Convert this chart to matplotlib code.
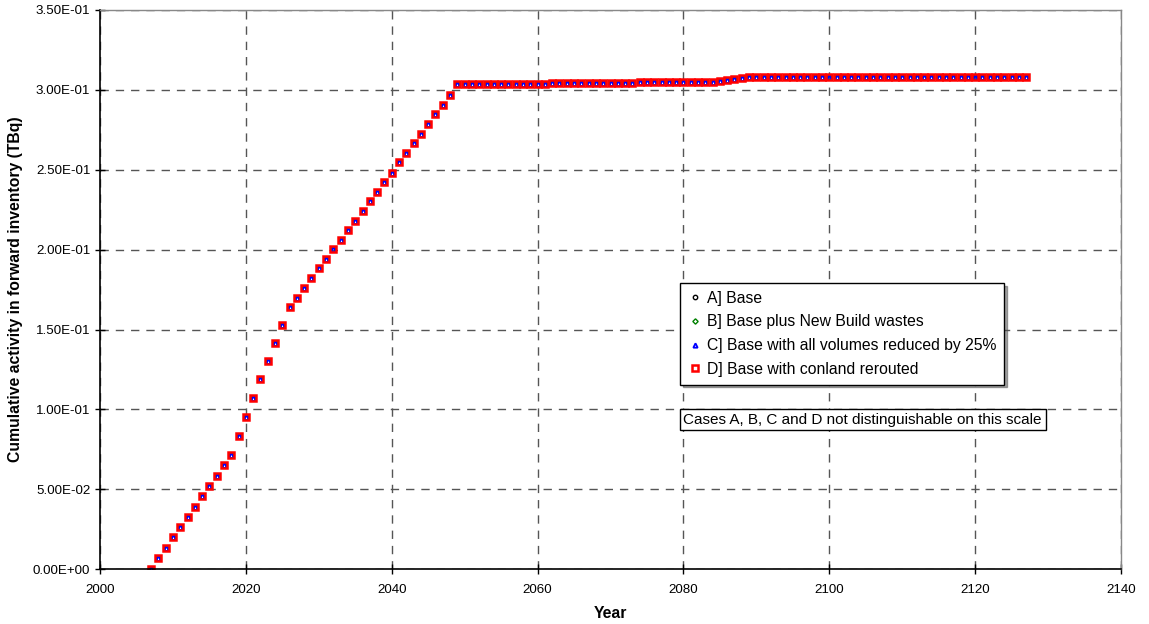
import numpy as np
import matplotlib
matplotlib.use("Agg")
import matplotlib.pyplot as plt
from matplotlib.ticker import FuncFormatter, MultipleLocator

plt.rcParams['font.family'] = ['Liberation Sans', 'DejaVu Sans']

# years 2007 - 2127
years = list(range(2007, 2128))

# cumulative activity (TBq)
rise = [0.0, 0.0069, 0.0133, 0.0200, 0.0262, 0.0330, 0.0392, 0.0458, 0.0520, 0.0582,
        0.0650, 0.0717, 0.0833, 0.0952, 0.1071, 0.1188, 0.1304, 0.1416, 0.1529, 0.1639,
        0.1700, 0.1763, 0.1823, 0.1885, 0.1943, 0.2002, 0.2062, 0.2123, 0.2181, 0.2244,
        0.2304, 0.2363, 0.2425, 0.2483, 0.2546, 0.2606, 0.2666, 0.2727, 0.2787, 0.2848,
        0.2906, 0.2968]
plateau = [0.3036, 0.3036, 0.3036, 0.3037, 0.3037, 0.3037, 0.3038, 0.3038, 0.3038, 0.3039,
           0.3039, 0.3040, 0.3040, 0.3041, 0.3041, 0.3042, 0.3042, 0.3043, 0.3043, 0.3044,
           0.3044, 0.3045, 0.3045, 0.3046, 0.3046, 0.3047, 0.3047, 0.3048, 0.3048, 0.3049,
           0.3049, 0.3050, 0.3050, 0.3050, 0.3050, 0.3050, 0.3056, 0.3063, 0.3067, 0.3073]
top = [0.3078] * (len(years) - len(rise) - len(plateau))
base = rise + plateau + top

case_a = base
case_b = base
case_c = base
case_d = base

labels = ["A] Base", "B] Base plus New Build wastes",
          "C] Base with all volumes reduced by 25%", "D] Base with conland rerouted"]

fig = plt.figure(figsize=(11.49, 6.24), dpi=100)
ax = fig.add_axes([100/1149, 1 - 569.3/624, 1021/1149, 559.3/624])

ax.plot(years, case_a, ls='none', marker='o', mfc='none', mec='black', ms=3.5, mew=1.0, label=labels[0])
ax.plot(years, case_b, ls='none', marker='D', mfc='none', mec='green', ms=3.0, mew=1.0, label=labels[1])
ax.plot(years, case_c, ls='none', marker='^', mfc='none', mec='blue', ms=3.5, mew=1.3, label=labels[2])
ax.plot(years, case_d, ls='none', marker='s', mfc='none', mec='red', ms=5.0, mew=1.8, label=labels[3])

ax.set_xlim(2000, 2140)
ax.set_ylim(0, 0.35)
ax.xaxis.set_major_locator(MultipleLocator(20))
ax.yaxis.set_major_locator(MultipleLocator(0.05))
ax.yaxis.set_major_formatter(FuncFormatter(lambda v, p: "%.2E" % v))
ax.tick_params(direction='inout', length=7, width=1, labelsize=9.6, colors='black')
ax.tick_params(axis='x', pad=7)
ax.grid(True, ls=(0, (6, 5)), color='#555555', lw=1.0)

for s in ['top', 'right']:
    ax.spines[s].set_color('#888888')
    ax.spines[s].set_linewidth(1.0)
for s in ['left', 'bottom']:
    ax.spines[s].set_linewidth(1.2)

ax.set_xlabel('Year', fontsize=11.3, fontweight='bold', labelpad=7)
ax.set_ylabel('Cumulative activity in forward inventory (TBq)', fontsize=11.3, fontweight='bold', labelpad=7)

leg = ax.legend(loc='upper left', bbox_to_anchor=(0.568, 0.512), borderaxespad=0,
                fontsize=11.3, frameon=True, fancybox=False, shadow=True,
                labelspacing=0.55, handletextpad=0.3, handlelength=0.9,
                borderpad=0.5, markerscale=0.9)
leg.get_frame().set_edgecolor('black')
leg.get_frame().set_linewidth(1.0)

ax.text(2080.0, 0.0937, 'Cases A, B, C and D not distinguishable on this scale',
        fontsize=11.0, va='center', ha='left',
        bbox=dict(boxstyle='square,pad=0.25', fc='white', ec='black', lw=1.0))

fig.savefig('out.png', dpi=100)
